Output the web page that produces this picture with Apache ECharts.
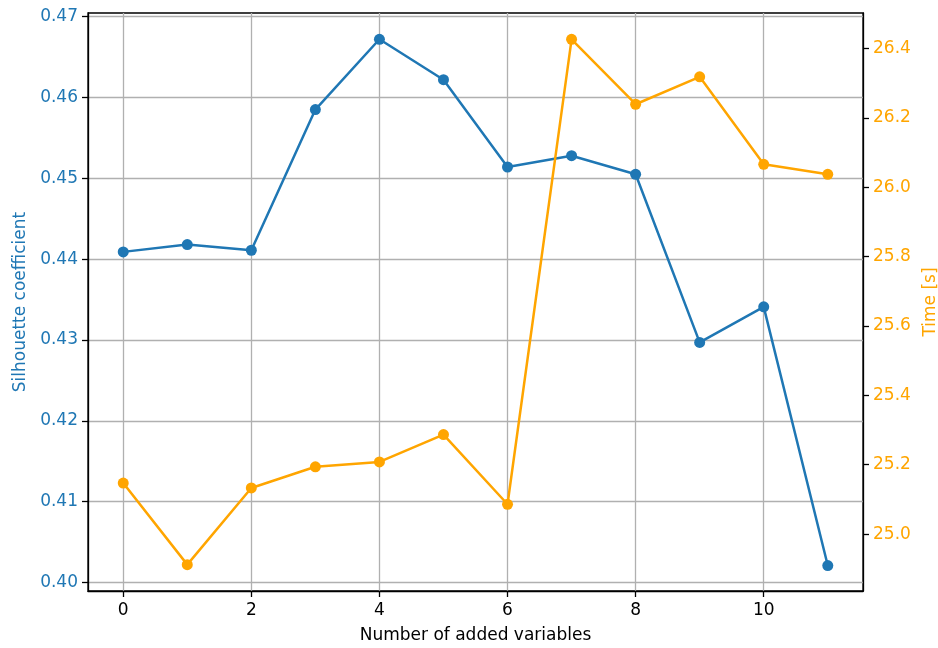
<!DOCTYPE html>
<html>
<head>
<meta charset="utf-8">
<script src="https://cdn.jsdelivr.net/npm/echarts@6/dist/echarts.min.js"></script>
<style>html,body{margin:0;padding:0;background:#fff;}#c{width:938px;height:648px;}</style>
</head>
<body>
<div id="c"></div>
<script>
// Data
const xValues = [0, 1, 2, 3, 4, 5, 6, 7, 8, 9, 10, 11];
const silhouette = [0.4409, 0.4418, 0.4411, 0.4585, 0.4672, 0.4622, 0.4514, 0.4528, 0.4505, 0.4297, 0.4341, 0.4021];
const timeSec = [25.147, 24.912, 25.133, 25.194, 25.208, 25.287, 25.086, 26.426, 26.239, 26.318, 26.066, 26.037];
const xTicks = [0, 2, 4, 6, 8, 10];
const leftTicks = [0.40, 0.41, 0.42, 0.43, 0.44, 0.45, 0.46, 0.47];
const rightTicks = [25.0, 25.2, 25.4, 25.6, 25.8, 26.0, 26.2, 26.4];

const BLUE = '#1f77b4';
const ORANGE = '#ffa500';
const FONT = 'DejaVu Sans';
const FS = 17;

const chart = echarts.init(document.getElementById('c'), null, {renderer: 'canvas'});
chart.setOption({
  animation: false,
  backgroundColor: '#fff',
  grid: {left: 88, right: 75, top: 13, bottom: 57, show: true, borderColor: '#000', borderWidth: 1.3,
         backgroundColor: 'transparent', containLabel: false, outerBoundsMode: 'none'},
  xAxis: {
    type: 'value', min: -0.55, max: 11.55,
    name: 'Number of added variables', nameLocation: 'middle', nameGap: 36,
    nameTextStyle: {fontFamily: FONT, fontSize: FS, color: '#000'},
    axisLine: {show: true, onZero: false, lineStyle: {color: '#000', width: 1.3}},
    axisTick: {show: true, length: 6, lineStyle: {color: '#000', width: 1.3}, customValues: xTicks},
    axisLabel: {fontFamily: FONT, fontSize: FS, color: '#000', margin: 11, customValues: xTicks, formatter: v => String(v)},
    splitLine: {show: true, lineStyle: {color: '#b0b0b0', width: 1.3}}
  },
  yAxis: [{
    type: 'value', position: 'left', min: 0.39895, max: 0.47045,
    name: 'Silhouette coefficient', nameLocation: 'middle', nameGap: 58, nameRotate: 90,
    nameTextStyle: {fontFamily: FONT, fontSize: FS, color: BLUE},
    axisLine: {show: true, onZero: false, lineStyle: {color: '#000', width: 1.3}},
    axisTick: {show: true, length: 6, lineStyle: {color: '#000', width: 1.3}, customValues: leftTicks},
    axisLabel: {fontFamily: FONT, fontSize: FS, color: BLUE, margin: 10, customValues: leftTicks, formatter: v => v.toFixed(2)},
    splitLine: {show: true, lineStyle: {color: '#b0b0b0', width: 1.3}}
  }, {
    type: 'value', position: 'right', min: 24.836, max: 26.502,
    name: 'Time [s]', nameLocation: 'middle', nameGap: 52, nameRotate: 90,
    nameTextStyle: {fontFamily: FONT, fontSize: FS, color: ORANGE},
    axisLine: {show: true, onZero: false, lineStyle: {color: '#000', width: 1.3}},
    axisTick: {show: true, length: 6, lineStyle: {color: '#000', width: 1.3}, customValues: rightTicks},
    axisLabel: {fontFamily: FONT, fontSize: FS, color: ORANGE, margin: 10, customValues: rightTicks, formatter: v => v.toFixed(1)},
    splitLine: {show: false}
  }],
  series: [{
    type: 'line', yAxisIndex: 0,
    data: xValues.map((x, i) => [x, silhouette[i]]),
    symbol: 'circle', symbolSize: 11,
    lineStyle: {color: BLUE, width: 2.5}, itemStyle: {color: BLUE},
    z: 3
  }, {
    type: 'line', yAxisIndex: 1,
    data: xValues.map((x, i) => [x, timeSec[i]]),
    symbol: 'circle', symbolSize: 11,
    lineStyle: {color: ORANGE, width: 2.5}, itemStyle: {color: ORANGE},
    z: 4
  }]
});
</script>
</body>
</html>
